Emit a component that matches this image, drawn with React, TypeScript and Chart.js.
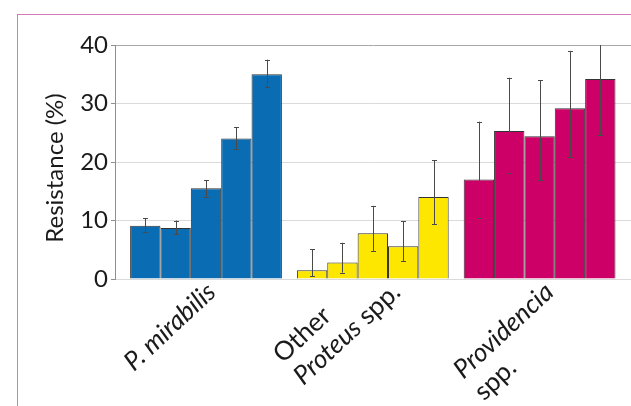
import React, { useEffect, useRef } from "react";
import { Chart, registerables } from "chart.js";

Chart.register(...registerables);

// ---- data ----
const categories = ["P. mirabilis", "Other Proteus spp.", "Providencia spp."];
// label lines with italic flags per segment
const categoryLabelLines: [string, boolean][][][] = [
  [[["P. mirabilis", true]]],
  [[["Other", false]], [["Proteus", true], [" spp.", false]]],
  [[["Providencia", true]], [["spp.", false]]],
];
const categoryColors = ["#0a6db3", "#fde600", "#cc0066"];

const series1 = [9.1, 1.5, 17.0];
const series2 = [8.7, 2.8, 25.3];
const series3 = [15.5, 7.8, 24.4];
const series4 = [24.0, 5.6, 29.2];
const series5 = [35.0, 14.0, 34.2];

const low1 = [8.1, 0.5, 10.4];
const low2 = [7.7, 1.1, 18.2];
const low3 = [14.1, 4.8, 16.9];
const low4 = [22.3, 3.0, 20.9];
const low5 = [32.8, 9.35, 24.6];

const high1 = [10.4, 5.1, 26.9];
const high2 = [10.0, 6.2, 34.4];
const high3 = [16.9, 12.5, 34.0];
const high4 = [25.9, 9.9, 39.0];
const high5 = [37.5, 20.3, 43.8];

const yTickValues = [0, 10, 20, 30, 40];
const yTitle = "Resistance (%)";

const seriesValues = [series1, series2, series3, series4, series5];
const seriesLows = [low1, low2, low3, low4, low5];
const seriesHighs = [high1, high2, high3, high4, high5];

const FONT = "Lato";
const FS = 24;
const XFS = 26;

const errorBarPlugin = {
  id: "errorBars",
  afterDatasetsDraw(chart: any) {
    const ctx = chart.ctx;
    const y = chart.scales.y;
    const a = chart.chartArea;
    ctx.save();
    ctx.beginPath();
    ctx.rect(a.left, a.top, a.right - a.left, a.bottom - a.top);
    ctx.clip();
    ctx.strokeStyle = "#4a4a4a";
    ctx.lineWidth = 1;
    seriesValues.forEach((_, d) => {
      const meta = chart.getDatasetMeta(d);
      meta.data.forEach((bar: any, i: number) => {
        const x = Math.round(bar.x) + 0.5;
        const yl = y.getPixelForValue(seriesLows[d][i]);
        const yh = y.getPixelForValue(seriesHighs[d][i]);
        ctx.beginPath();
        ctx.moveTo(x, yl);
        ctx.lineTo(x, yh);
        ctx.moveTo(x - 2.5, Math.round(yl) + 0.5);
        ctx.lineTo(x + 2.5, Math.round(yl) + 0.5);
        ctx.moveTo(x - 2.5, Math.round(yh) + 0.5);
        ctx.lineTo(x + 2.5, Math.round(yh) + 0.5);
        ctx.stroke();
      });
    });
    ctx.restore();
  },
};

const LABEL_DX = -36;
const LABEL_DY = -2;
const ROT = (43 * Math.PI) / 180;
const LH = 30;

const xLabelPlugin = {
  id: "xLabels",
  afterDraw(chart: any) {
    const ctx = chart.ctx;
    const xs = chart.scales.x;
    const area = chart.chartArea;
    const cos = Math.cos(ROT);
    const sin = Math.sin(ROT);
    categoryLabelLines.forEach((lines, i) => {
      const cx = xs.getPixelForValue(i);
      const widths = lines.map((segs) =>
        segs.reduce((w, [t, it]) => {
          ctx.font = `${it ? "italic " : ""}${XFS}px ${FONT}`;
          return w + ctx.measureText(t).width;
        }, 0)
      );
      const pxs: number[] = [];
      const pys: number[] = [];
      widths.forEach((w, li) => {
        [
          [0, li * LH],
          [w, li * LH],
          [0, (li + 1) * LH],
          [w, (li + 1) * LH],
        ].forEach(([lx, ly]) => {
          pxs.push(lx * cos + ly * sin);
          pys.push(-lx * sin + ly * cos);
        });
      });
      const minX = Math.min(...pxs);
      const maxX = Math.max(...pxs);
      const minY = Math.min(...pys);
      const ox = cx + LABEL_DX - (minX + maxX) / 2;
      const oy = area.bottom + LABEL_DY - minY;
      ctx.save();
      ctx.translate(ox, oy);
      ctx.rotate(-ROT);
      ctx.textBaseline = "top";
      ctx.textAlign = "left";
      ctx.fillStyle = "#1a1a1a";
      lines.forEach((segs, li) => {
        let x = 0;
        segs.forEach(([t, it]) => {
          ctx.font = `${it ? "italic " : ""}${XFS}px ${FONT}`;
          ctx.fillText(t, x, li * LH + (LH - XFS) / 2);
          x += ctx.measureText(t).width;
        });
      });
      ctx.restore();
    });
  },
};

export default function App() {
  const ref = useRef<HTMLCanvasElement | null>(null);
  useEffect(() => {
    if (!ref.current) return;
    const chart = new Chart(ref.current, {
      type: "bar",
      data: {
        datasets: seriesValues.map((vals, d) => ({
          label: `Series ${d + 1}`,
          data: vals.map((v, i) => ({ x: i, y: v })),
          backgroundColor: categoryColors,
          borderColor: "#333333",
          borderWidth: 1,
          categoryPercentage: 0.91,
          barPercentage: 1,
        })),
      },
      options: {
        responsive: false,
        animation: false,
        devicePixelRatio: 1,
        layout: { padding: { left: 0, right: 0, top: 45, bottom: 0 } },
        plugins: { legend: { display: false }, tooltip: { enabled: false } },
        scales: {
          x: {
            type: "linear",
            min: -0.5456,
            max: 2.548,
            offset: false,
            grid: { display: false, offset: false },
            border: { display: false },
            ticks: { display: false, stepSize: 1, includeBounds: false },
            afterFit: (s: any) => {
              s.height = 127;
            },
          },
          y: {
            min: 0,
            max: 40,
            afterFit: (s: any) => {
              s.width = 115;
            },
            border: { display: true, color: "#8f8f8f", width: 1 },
            grid: {
              color: (c: any) => (c.tick && c.tick.value === 40 ? "#a8a8a8" : "#dadada"),
              tickColor: "#8f8f8f",
              tickLength: 4,
              drawTicks: true,
            },
            ticks: {
              stepSize: 5,
              padding: 3,
              color: "#1a1a1a",
              font: { family: FONT, size: FS },
              callback: (v: any) => (yTickValues.includes(Number(v)) ? String(v) : ""),
            },
            title: {
              display: true,
              text: yTitle + "\u2002",
              color: "#1a1a1a",
              font: { family: FONT, size: FS },
              padding: { top: 41, bottom: 0 },
            },
          },
        },
      },
      plugins: [errorBarPlugin, xLabelPlugin],
    });
    return () => chart.destroy();
  }, []);

  return (
    <div style={{ position: "fixed", left: 0, top: 0, width: 631, height: 406, background: "#fff", overflow: "hidden" }}>
      <div
        style={{
          position: "absolute",
          left: 17,
          top: 14,
          width: 700,
          height: 500,
          borderLeft: "1.5px solid #d47bb8",
          borderTop: "1.5px solid #d47bb8",
        }}
      />
      <canvas ref={ref} width={631} height={406} style={{ position: "absolute", left: 0, top: 0 }} />
    </div>
  );
}
